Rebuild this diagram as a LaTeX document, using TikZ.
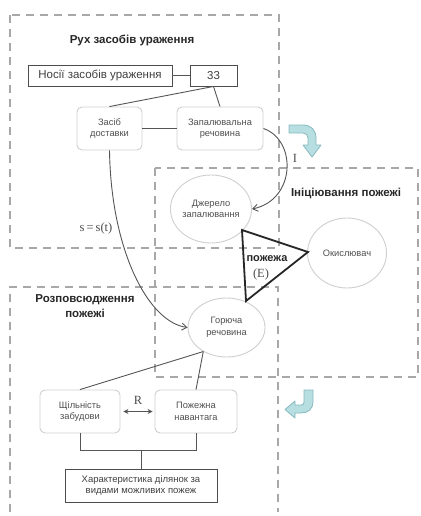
\documentclass[tikz,border=0pt]{standalone}
\usepackage{fontspec}
\setmainfont{Liberation Sans}
\newfontfamily\serifml{Liberation Serif}
\usetikzlibrary{arrows.meta,shapes.geometric}
\definecolor{dashgray}{HTML}{A8A8A8}
\definecolor{txtgray}{HTML}{505050}
\definecolor{lightbd}{HTML}{CFCFCF}
\definecolor{linegray}{HTML}{555555}
\definecolor{tealfill}{HTML}{B7DEE1}
\definecolor{tealbd}{HTML}{86B9BE}
\begin{document}
\begin{tikzpicture}[x=1pt,y=-1pt,
  region/.style={draw=dashgray, line width=1.3pt, dash pattern=on 8pt off 6pt},
  rbox/.style={draw=lightbd, line width=0.9pt, rounded corners=5pt, fill=white, text=txtgray,
    font=\fontsize{9.3}{11.5}\selectfont, align=center, inner sep=0pt},
  sbox/.style={draw=black!70, line width=0.9pt, fill=white, text=black!75,
    font=\fontsize{9.5}{11.5}\selectfont, align=center, inner sep=0pt},
  oval/.style={ellipse, draw=lightbd, line width=0.9pt, fill=white, text=txtgray,
    font=\fontsize{9.3}{11.5}\selectfont, align=center, inner sep=0pt},
  conn/.style={draw=linegray, line width=0.9pt},
  title/.style={font=\bfseries\fontsize{11.5}{15}\selectfont, text=black!85, align=center},
  lbl/.style={font=\serifml\fontsize{12.5}{14}\selectfont, text=black!70},
  teal/.style={fill=tealfill, draw=tealbd, line width=0.8pt, line join=round}
]
\useasboundingbox (0,0) rectangle (420,516);

% dashed regions
\draw[region] (10,15) rectangle (279,248);
\draw[region] (155,168) rectangle (418,377);
\draw[region] (10,512) -- (10,287) -- (278,287) -- (278,512);

% titles
\node[title] (t1) at (132,40) {Рух засобів ураження};
\node[title] (t2) at (346,193) {Ініціювання пожежі};
\node[title] (t3) at (85,306) {Розповсюдження\\пожежі};

% top nodes
\node[sbox, minimum width=144pt, minimum height=21pt, font=\fontsize{11.5}{13}\selectfont] (nos) at (100,75.5) {Носії засобів ураження};
\node[sbox, minimum width=47pt, minimum height=21pt, font=\fontsize{11.5}{13}\selectfont] (n33) at (213.5,75.5) {33};
\node[rbox, minimum width=65pt, minimum height=43pt] (zas) at (109.5,128.5) {Засіб\\доставки};
\node[rbox, minimum width=86pt, minimum height=43pt] (zap) at (220,128.5) {Запалювальна\\речовина};

\draw[conn] (nos.east) -- (n33.west);
\draw[conn] (n33.south) -- (zas.north);
\draw[conn] (n33.south) -- (zap.north);
\draw[conn] (zas.east) -- (zap.west);

% ellipses
\node[oval, minimum width=78pt, minimum height=68pt] (dzh) at (211,209) {Джерело\\запалювання};
\node[oval, minimum width=79pt, minimum height=70pt] (oks) at (347,253) {Окислювач};
\node[oval, minimum width=77pt, minimum height=59pt] (gor) at (226.5,327.5) {Горюча\\речовина};

% curve I
\draw[conn, -{Straight Barb[length=5pt,width=7pt]}] (zap.east) .. controls (297,140) and (296,200) .. (dzh.east);
\node[lbl] (li) at (295,158) {I};

% curve s = s(t)
\draw[conn, -{Straight Barb[length=5pt,width=7pt]}] (zas.south) .. controls (111,250) and (148,322) .. (gor.west);
\node[lbl] (ls) at (96,228) {s\,=\,s(t)};

% triangle (fire)
\coordinate (tA) at (242,230);
\coordinate (tB) at (308,252);
\coordinate (tC) at (246,301);
\draw[line width=1.8pt, line join=miter, black!85] (tA) -- (tB) -- (tC) -- cycle;
\node[font=\bfseries\fontsize{11}{13}\selectfont, text=black!85] (pz) at (267,259) {пожежа};
\node[lbl] (pe) at (261,274) {(E)};

% bottom nodes
\node[rbox, minimum width=80pt, minimum height=43pt] (shc) at (80,411.5) {Щільність\\забудови};
\node[rbox, minimum width=82pt, minimum height=43pt] (poz) at (196,411.5) {Пожежна\\навантага};
\node[sbox, minimum width=152pt, minimum height=33pt] (khr) at (141,485.5) {Характеристика ділянок за\\видами можливих пожеж};

\draw[conn] (gor.226) -- (shc.north);
\draw[conn] (gor.226) -- (poz.north);
\draw[conn, {Stealth[length=5pt,width=5pt]}-{Stealth[length=5pt,width=5pt]}] ([xshift=3pt]shc.east) -- ([xshift=-2pt]poz.west);
\node[lbl] (lr) at (138,400) {R};

\coordinate (bl) at (80,450);
\coordinate (br) at (196,450);
\coordinate (bm) at (141,450);
\draw[conn] (shc.south) -- (bl) -- (br) -- (poz.south);
\draw[conn] (bm) -- (khr.north);

% teal bent arrows
\draw[teal] (289,125) -- (303,125) .. controls (311,125) and (316,130) .. (316,138)
  -- (316,145) -- (321,145) -- (312,157) -- (303,145) -- (308,145) -- (308,138)
  .. controls (308,135) and (306,133) .. (303,133) -- (289,133) -- cycle;
\draw[teal] (313,390) -- (313,402) .. controls (313,409) and (308,413) .. (301,413)
  -- (295,413) -- (295,418) -- (285,409.5) -- (295,401) -- (295,405) -- (301,405)
  .. controls (303,405) and (304,404) .. (304,402) -- (304,390) -- cycle;
\end{tikzpicture}
\end{document}
